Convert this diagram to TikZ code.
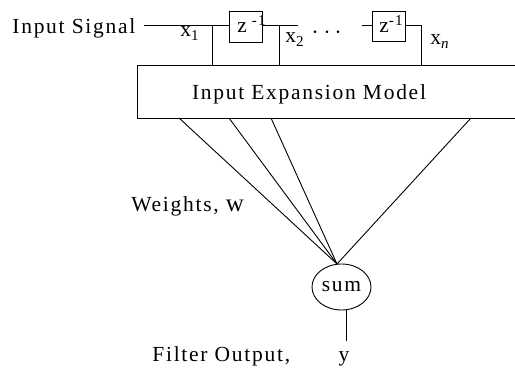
\documentclass[tikz,border=0pt]{standalone}
\usepackage{fontspec}
\setmainfont{Liberation Serif}[LetterSpace=8]
\usetikzlibrary{shapes.geometric}
\begin{document}
\begin{tikzpicture}[x=1pt,y=-1pt,line width=0.9pt,
  lbl/.style={inner sep=0pt,font=\fontsize{21.5}{25}\selectfont},
  dotlbl/.style={inner sep=0pt,font=\fontsize{24}{25}\selectfont},
  delaybox/.style={draw,minimum width=33pt,minimum height=31pt,inner sep=0pt,anchor=north west},
  sumnode/.style={draw,ellipse,minimum width=59pt,minimum height=46pt,inner sep=0pt}]
  \useasboundingbox (0,0) rectangle (515,371);
  \clip (0,0) rectangle (515,371);

  % delay line
  \node[lbl,anchor=base west] (insig) at (12,34) {Input Signal};
  \node[delaybox] (d1) at (229,11) {};
  \node[lbl,anchor=base west] (z1) at (237,33) {z\textsuperscript{ -1}};
  \node[delaybox,minimum height=30pt] (d2) at (372,11) {};
  \node[lbl,anchor=base west] (z2) at (379,33) {z\textsuperscript{-1}};
  \coordinate (inl) at (144,25.5);
  \coordinate (t1) at (212,25.5);
  \coordinate (t2) at (279,25.5);
  \coordinate (e2) at (298,25.5);
  \coordinate (s2) at (362,25.5);
  \coordinate (tn) at (421,25.5);
  \draw (inl) -- (d1.west |- inl);
  \draw (d1.east |- inl) -- (e2);
  \draw (s2) -- (d2.west |- s2);
  \draw (d2.east |- s2) -- (tn);
  \node[dotlbl] (dt1) at (315,33) {$\cdot$};
  \node[dotlbl] (dt2) at (327,33) {$\cdot$};
  \node[dotlbl] (dt3) at (338,33) {$\cdot$};

  % taps
  \node[lbl,anchor=base west] (x1) at (180,37) {x\textsubscript{1}};
  \node[lbl,anchor=base west] (x2) at (285,43) {x\textsubscript{2}};
  \node[lbl,anchor=base west] (xn) at (430,45) {x\textsubscript{\itshape n}};

  % expansion block (runs past the right edge)
  \node[draw,minimum width=420pt,minimum height=53pt,inner sep=0pt,anchor=north west] (iem) at (136.5,65) {};
  \node[lbl,anchor=base] (iemlbl) at (309,100) {Input Expansion Model};
  \draw (t1) -- (t1 |- iem.north);
  \draw (t2) -- (t2 |- iem.north);
  \draw (tn) -- (tn |- iem.north);

  % weights to the summer
  \node[sumnode] (sum) at (341.5,287) {};
  \node[lbl] (sumlbl) at (sum.center) {sum};
  \coordinate (hub) at (337,264);
  \coordinate (w1) at (179,118);
  \coordinate (w2) at (229,118);
  \coordinate (w3) at (271,118);
  \coordinate (w4) at (471,118);
  \foreach \w in {w1,w2,w3,w4} \draw (\w) -- (hub);
  \node[lbl,anchor=base west] (wts) at (131,212) {Weights,\hspace{7pt}{\fontsize{25}{28}\selectfont w}};

  % output
  \coordinate (sumb) at (346,309.5);
  \coordinate (outend) at (346,341);
  \draw (sumb) -- (outend);
  \node[lbl,anchor=base west] (flt) at (152,362) {Filter\ Output,};
  \node[lbl,anchor=base] (yout) at (344,362) {y};
\end{tikzpicture}
\end{document}
